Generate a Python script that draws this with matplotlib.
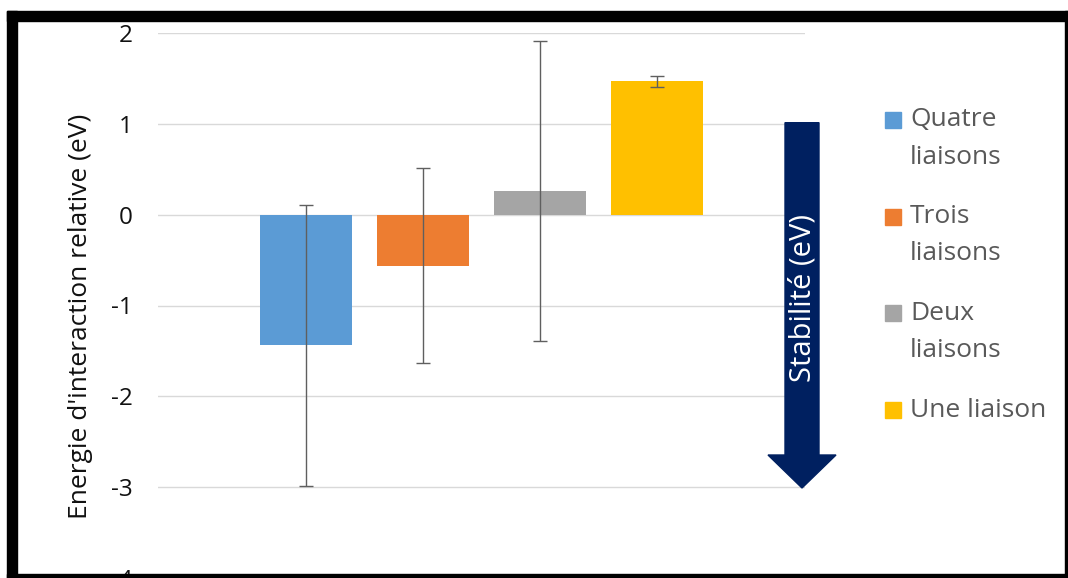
import textwrap
from matplotlib import pyplot as plt
from matplotlib import patches
import numpy as np

# series (one category, four series)
series = ["Quatre liaisons", "Trois liaisons", "Deux liaisons", "Une liaison"]
energies = [-1.44, -0.56, 0.26, 1.47]
errors = [1.55, 1.07, 1.65, 0.06]
colors = ["#5B9BD5", "#ED7D31", "#A5A5A5", "#FFC000"]
yticks = [-4, -3, -2, -1, 0, 1, 2]

W, H = 1068, 578
plt.rcParams['font.family'] = ['Open Sans', 'DejaVu Sans']

fig = plt.figure(figsize=(W / 100, H / 100), dpi=100)


def fx(x):
    return x / W


def fy(y):
    return 1 - y / H


ax = fig.add_axes([fx(158), 0, fx(805) - fx(158), fy(33)])
pos = np.arange(len(series))
ax.bar(pos, energies, width=0.786, color=colors, zorder=2)
ax.errorbar(pos, energies, yerr=errors, fmt='none', ecolor='#5f5f5f',
            elinewidth=1, capsize=5, capthick=1, zorder=3)
ax.set_xlim(-1.265, 4.265)
ax.set_ylim(-4, 2)
ax.set_yticks(yticks)
ax.set_yticklabels([str(v) for v in yticks])
ax.set_xticks([])
ax.tick_params(axis='y', length=0, pad=18, labelsize=17.5, labelcolor='#111111')
ax.grid(axis='y', color='#d9d9d9', linewidth=1, zorder=0)
for s in ax.spines.values():
    s.set_visible(False)

fig.text(fx(81), fy(316), "Energie d'interaction relative (eV)", rotation=90,
         ha='center', va='center', fontsize=19, color='#111111')

# stability arrow
arrow = patches.FancyArrow(fx(802), fy(122.7), 0, fy(488) - fy(122.7),
                           width=fx(34), head_width=fx(68), head_length=33 / H,
                           length_includes_head=True, color='#002060',
                           transform=fig.transFigure, zorder=5)
fig.add_artist(arrow)
fig.text(fx(803), fy(298), "Stabilité (eV)", rotation=90, ha='center',
         va='center', fontsize=21, color='white', zorder=6)

# legend drawn by hand (text wraps onto two lines)
for i, (name, c) in enumerate(zip(series, colors)):
    y0 = 120 + i * 96.7
    fig.add_artist(patches.Rectangle((fx(885), fy(y0 + 8)), fx(16), 16 / H,
                                     transform=fig.transFigure, color=c))
    for j, line in enumerate(textwrap.wrap(name, 11)):
        fig.text(fx(910), fy(y0 + j * 37), line, ha='left', va='center',
                 fontsize=19, color='#595959')

# black frame around the picture
black = '#000000'
for (x0, y0, x1, y1) in [(7, 11, W, 21), (7, 11, 17, H), (1065, 11, W, H), (7, 574, W, H)]:
    fig.add_artist(patches.Rectangle((fx(x0), fy(y1)), fx(x1 - x0), (y1 - y0) / H,
                                     transform=fig.transFigure, color=black, zorder=10))

fig.savefig('out.png', dpi=100)
